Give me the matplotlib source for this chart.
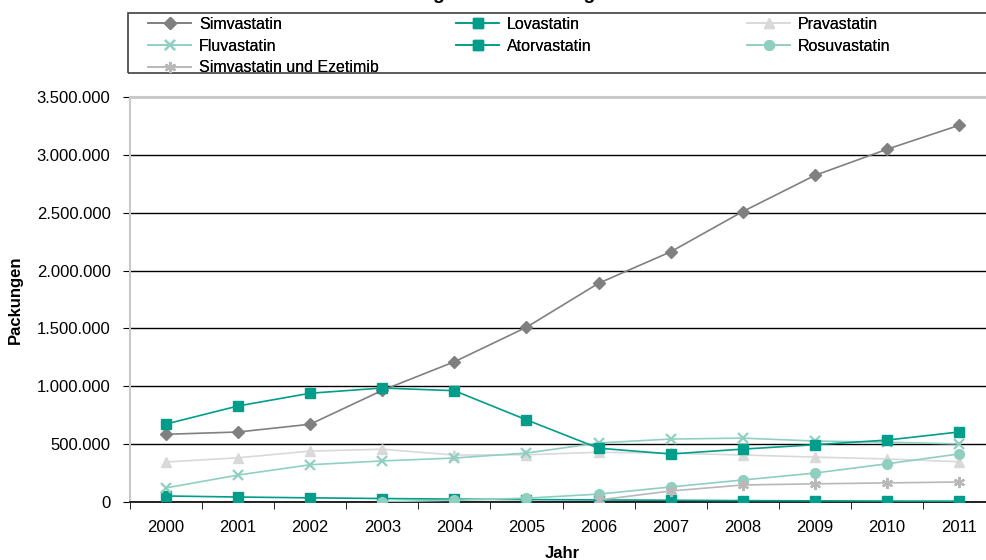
import matplotlib.pyplot as plt
import numpy as np
from matplotlib.ticker import FuncFormatter, MultipleLocator, FixedLocator
from matplotlib.patches import Rectangle

plt.rcParams['font.family'] = ['Liberation Sans', 'DejaVu Sans']

years = ['2000', '2001', '2002', '2003', '2004', '2005',
         '2006', '2007', '2008', '2009', '2010', '2011']

nan = np.nan
simvastatin = [585000, 605000, 672000, 965000, 1212000, 1510000,
               1890000, 2162000, 2510000, 2822000, 3048000, 3255000]
lovastatin = [52000, 43000, 36000, 30000, 25000, 21000,
              18000, 15000, 12000, 10000, 8000, 7000]
pravastatin = [346000, 382000, 440000, 456000, 406000, 408000,
               430000, 422000, 406000, 388000, 372000, 348000]
fluvastatin = [122000, 233000, 322000, 355000, 380000, 423000,
               510000, 544000, 552000, 527000, 517000, 502000]
atorvastatin = [674000, 830000, 940000, 985000, 962000, 710000,
                465000, 415000, 457000, 495000, 535000, 605000]
rosuvastatin = [nan, nan, nan, 3000, 15000, 33000,
                68000, 130000, 190000, 250000, 330000, 415000]
simva_ezetimib = [nan, nan, nan, nan, nan, nan,
                  17000, 95000, 147000, 157000, 165000, 173000]

teal = '#009e8a'
series = [
    ('Simvastatin', simvastatin, '#808080', 'D', 6.5),
    ('Lovastatin', lovastatin, teal, 's', 7.5),
    ('Pravastatin', pravastatin, '#d9d9d9', '^', 7.5),
    ('Fluvastatin', fluvastatin, '#8fd0c2', 'x', 7),
    ('Atorvastatin', atorvastatin, teal, 's', 7.5),
    ('Rosuvastatin', rosuvastatin, '#8fcfbf', 'o', 7),
    ('Simvastatin und Ezetimib', simva_ezetimib, '#b8b8b8', (6, 2, 0), 8),
]

W, H = 986, 560
fig = plt.figure(figsize=(W / 100, H / 100), dpi=100)
ax = fig.add_axes([130 / W, (H - 502) / H, (995 - 130) / W, (502 - 97) / H])

x = np.arange(len(years))
handles = {}
for name, vals, col, mk, ms in series:
    mew = 1.6 if mk in ('x', (6, 2, 0)) else 1
    ln, = ax.plot(x, vals, color=col, marker=mk, markersize=ms, lw=1.2,
                  markeredgewidth=mew, label=name, zorder=3)
    handles[name] = ln

ax.set_xlim(-0.5, len(years) - 0.5)
ax.set_ylim(0, 3500000)
ax.yaxis.set_major_locator(MultipleLocator(500000))
ax.yaxis.set_major_formatter(FuncFormatter(lambda v, p: f"{v:,.0f}".replace(',', '.')))
ax.grid(axis='y', color='black', lw=1, zorder=0)
ax.set_axisbelow(True)

ax.set_xticks(x)
ax.set_xticklabels(years)
ax.xaxis.set_minor_locator(FixedLocator(np.arange(-0.5, len(years), 1)))
ax.tick_params(axis='x', which='major', length=0, pad=13, labelsize=12)
ax.tick_params(axis='x', which='minor', length=5, color='black')
ax.tick_params(axis='y', length=5, pad=9, labelsize=12, color='black')

for s in ['top', 'right', 'left']:
    ax.spines[s].set_color('#c8c8c8')
    ax.spines[s].set_linewidth(1.5)
ax.spines['bottom'].set_color('black')
ax.spines['bottom'].set_linewidth(1.2)

ax.set_ylabel('Packungen', fontweight='bold', fontsize=12, labelpad=10)
ax.set_xlabel('Jahr', fontweight='bold', fontsize=12, labelpad=8)

# title is cut off at the top of the image
fig.text(474 / W, 1.002, 'Entwicklung der Verordnungen', ha='center', va='baseline',
         fontsize=14, fontweight='bold')

# legend box
fig.add_artist(Rectangle((128 / W, (H - 73) / H), (990 - 128) / W, 60 / H,
                         transform=fig.transFigure, fill=False,
                         edgecolor='#404040', lw=1.2))

columns = [
    (148, ['Simvastatin', 'Fluvastatin', 'Simvastatin und Ezetimib']),
    (456, ['Lovastatin', 'Atorvastatin']),
    (747, ['Pravastatin', 'Rosuvastatin']),
]
for xpos, names in columns:
    leg = fig.legend([handles[n] for n in names], names, loc='upper left',
                     bbox_to_anchor=(xpos / W, (H - 17) / H), frameon=False,
                     fontsize=11.5, borderpad=0, borderaxespad=0,
                     handlelength=2.7, handletextpad=0.5, labelspacing=0.42)
    fig.add_artist(leg)

fig.savefig('out.png', dpi=100)
